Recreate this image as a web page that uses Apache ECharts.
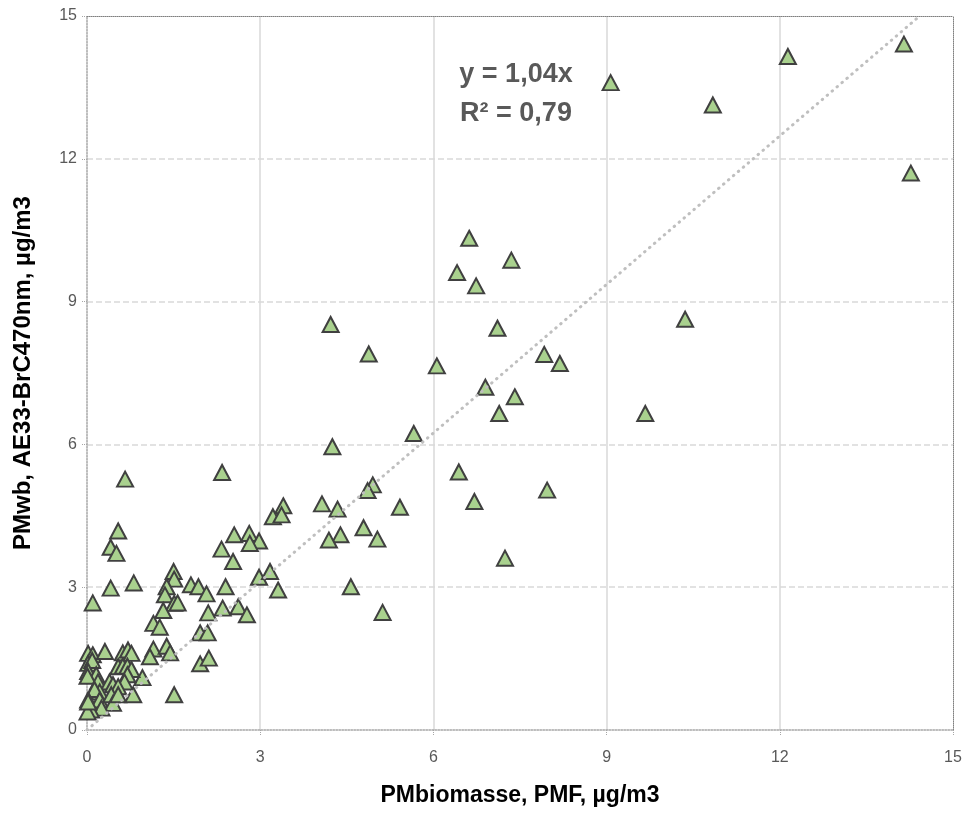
<!DOCTYPE html>
<html>
<head>
<meta charset="utf-8">
<script src="https://cdn.jsdelivr.net/npm/echarts@6/dist/echarts.min.js"></script>
<style>
html, body { margin: 0; padding: 0; background: #fff; }
#chart { width: 967px; height: 817px; }
</style>
</head>
<body>
<div id="chart"></div>
<script>
// PMbiomasse (PMF), µg/m3
var pmBiomasse = [
  14.15, 12.14, 9.07, 10.84, 14.27, 10.36, 9.67,
  6.62, 7.35, 6.41, 6.74, 7.11, 7.92, 8.19, 6.06, 6.90, 7.41, 7.14, 5.66,
  4.22, 4.88, 7.24, 7.97,
  4.25, 6.44, 4.95, 4.86, 6.71, 4.07, 4.34, 5.42, 4.79, 4.39, 4.19, 5.03, 4.57, 5.12,
  2.34, 3.40, 3.22, 3.37, 2.55, 2.81, 2.98, 2.82, 2.33, 2.53, 2.98, 3.17, 2.40, 3.31, 2.62, 2.77, 2.35,
  0.66, 0.54, 0.41, 0.51, 0.41, 0.81, 0.10,
  1.50, 1.51, 1.38, 1.80, 1.93, 2.07, 1.35, 1.51, 1.57, 1.32, 2.10, 1.15, 1.26, 1.96, 2.09,
  1.15, 1.38, 1.44, 1.09, 1.96, 2.11, 0.96, 1.51,
  0.02, 0.10, 0.31, 0.62, 0.71, 0.77, 0.02, 0.09, 0.02, 0.16, 0.01, 0.54, 0.62, 0.70, 0.77, 0.70,
  0.19, 0.39, 0.45, 0.65, 0.54, 0.22, 0.13, 0.02, 0.22, 0.42, 0.45, 0.54, 0.80, 0.25, 0.07, 0.01, 0.02
];
// PMwb (AE33-BrC470nm), µg/m3
var pmWb = [
  14.41, 14.15, 13.60, 13.13, 11.70, 8.63, 6.65,
  10.33, 9.87, 9.61, 9.33, 8.44, 7.89, 7.70, 7.65, 7.20, 7.00, 6.65, 6.23,
  8.52, 7.90, 3.61, 5.04,
  5.95, 5.42, 5.15, 5.03, 4.80, 4.75, 4.64, 4.68, 4.25, 4.10, 3.99, 4.01, 3.01, 2.47,
  5.41, 4.71, 4.48, 4.52, 4.10, 4.13, 3.97, 3.92, 3.80, 3.54, 3.21, 3.33, 3.01, 2.94, 2.59, 2.42, 2.56,
  5.27, 4.18, 3.84, 3.71, 2.98, 3.09, 2.67,
  3.33, 3.17, 3.01, 3.05, 3.01, 2.86, 2.84, 2.66, 2.67, 2.51, 2.46, 2.24, 2.16, 2.04, 2.04,
  1.70, 1.76, 1.62, 1.54, 1.39, 1.51, 1.10, 0.74,
  1.61, 1.58, 1.65, 1.62, 1.68, 1.61, 1.40, 1.46, 1.23, 1.16, 1.13, 1.33, 1.34, 1.34, 1.27, 1.16,
  1.01, 1.01, 0.95, 1.01, 0.91, 0.80, 0.85, 0.63, 0.63, 0.74, 0.56, 0.74, 0.74, 0.46, 0.42, 0.38, 0.59
];
var axisTicks = [0, 3, 6, 9, 12, 15];
var trendSlope = 1.04;
var trendLabel = ['y = 1,04x', 'R² = 0,79'];

var points = [];
for (var i = 0; i < pmBiomasse.length; i++) {
  points.push([pmBiomasse[i], pmWb[i]]);
}
var axisMax = axisTicks[axisTicks.length - 1];
var trendData = [[0, 0], [axisMax / trendSlope, axisMax]];

var font = '"Liberation Sans", Arial, sans-serif';
var chart = echarts.init(document.getElementById('chart'));

var option = {
  animation: false,
  backgroundColor: '#fff',
  grid: { left: 87, right: 14, top: 16, bottom: 87 },
  xAxis: [
    {
      type: 'value', min: 0, max: axisMax, interval: 3,
      name: 'PMbiomasse, PMF, µg/m3',
      nameLocation: 'middle', nameGap: 54,
      nameTextStyle: { fontFamily: font, fontSize: 23, fontWeight: 'bold', color: '#000' },
      axisLine: { onZero: false, lineStyle: { color: '#a6a6a6', type: 'dotted', width: 1.5 } },
      axisTick: { length: 5, lineStyle: { color: '#a6a6a6', type: 'dotted' } },
      axisLabel: { margin: 20, fontFamily: font, fontSize: 16, color: '#595959' },
      splitLine: { show: true, showMinLine: false, showMaxLine: false, lineStyle: { color: '#d9d9d9', width: 1.5 } }
    },
    {
      type: 'value', position: 'top', min: 0, max: axisMax, interval: 3,
      axisLine: { show: true, onZero: false, lineStyle: { color: '#7f7f7f', type: 'dotted', width: 1 } },
      axisTick: { show: false }, axisLabel: { show: false }, splitLine: { show: false }
    }
  ],
  yAxis: [
    {
      type: 'value', min: 0, max: axisMax, interval: 3,
      name: 'PMwb, AE33-BrC470nm, µg/m3',
      nameLocation: 'middle', nameGap: 52,
      nameTextStyle: { fontFamily: font, fontSize: 24, fontWeight: 'bold', color: '#000' },
      axisLine: { show: true, onZero: false, lineStyle: { color: '#a6a6a6', type: 'dotted', width: 1.5 } },
      axisTick: { show: true, length: 5, lineStyle: { color: '#a6a6a6', type: 'dotted' } },
      axisLabel: { margin: 10, fontFamily: font, fontSize: 16, color: '#595959' },
      splitLine: { show: true, showMinLine: false, showMaxLine: false, lineStyle: { color: '#d9d9d9', type: [6, 3], width: 1.5 } }
    },
    {
      type: 'value', position: 'right', min: 0, max: axisMax, interval: 3,
      axisLine: { show: true, onZero: false, lineStyle: { color: '#7f7f7f', type: 'dotted', width: 1 } },
      axisTick: { show: false }, axisLabel: { show: false }, splitLine: { show: false }
    }
  ],
  series: [
    {
      type: 'scatter',
      xAxisIndex: 0, yAxisIndex: 0,
      symbol: 'triangle',
      symbolSize: [16, 15],
      itemStyle: { color: '#a9d18e', borderColor: '#404040', borderWidth: 2, opacity: 1 },
      data: points,
      z: 2
    },
    {
      type: 'line',
      xAxisIndex: 0, yAxisIndex: 0,
      showSymbol: false,
      silent: true,
      lineStyle: { color: '#bfbfbf', width: 3, type: [0.5, 6], cap: 'round' },
      data: trendData,
      z: 3
    }
  ],
  graphic: [
    {
      type: 'text', x: 516, y: 75,
      style: { text: trendLabel[0], x: 0, y: 0, align: 'center', verticalAlign: 'middle',
               font: 'bold 27px ' + font, fill: '#595959' }
    },
    {
      type: 'text', x: 516, y: 114,
      style: { text: trendLabel[1], x: 0, y: 0, align: 'center', verticalAlign: 'middle',
               font: 'bold 27px ' + font, fill: '#595959' }
    }
  ]
};
chart.setOption(option);
</script>
</body>
</html>
